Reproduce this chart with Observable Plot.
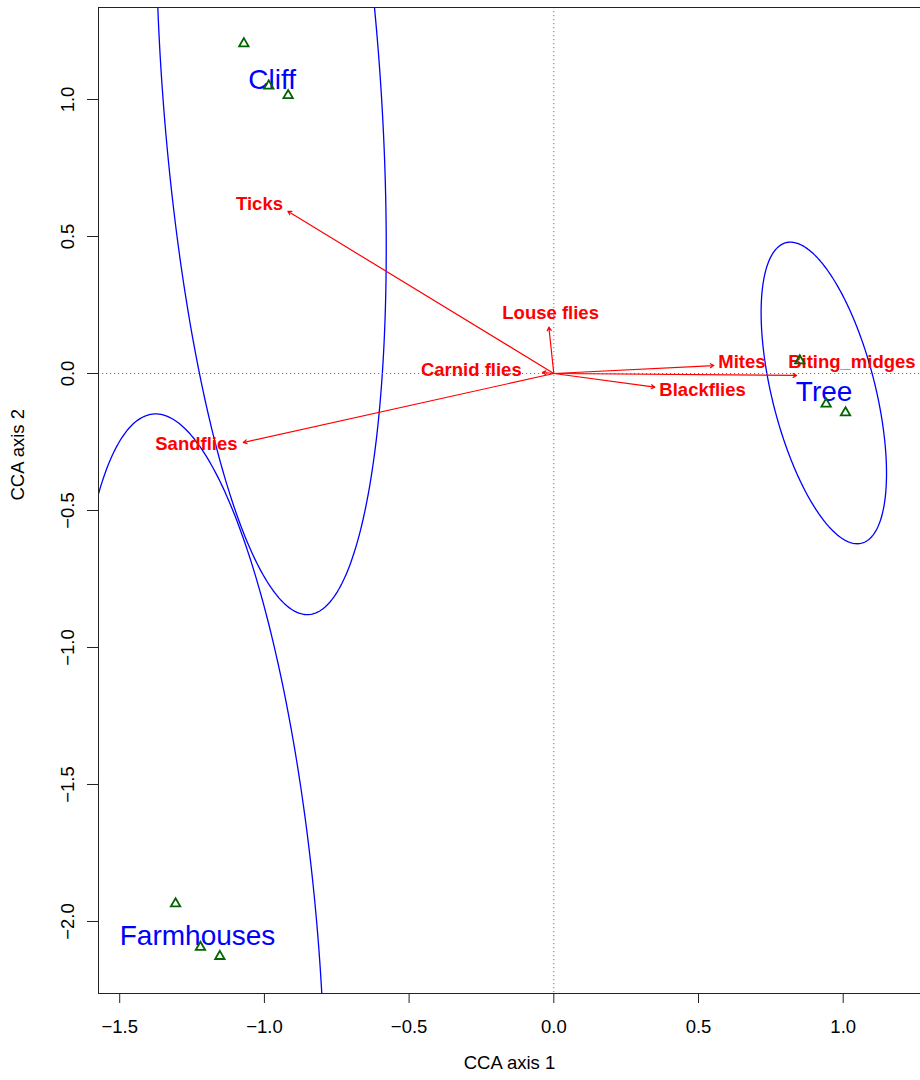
<!DOCTYPE html>
<html><head><meta charset="utf-8">
<script src="https://cdn.jsdelivr.net/npm/d3@7"></script>
<script src="https://cdn.jsdelivr.net/npm/@observablehq/plot@0.6"></script>
<style>body{margin:0;background:#fff}</style>
</head><body><div id="chart"></div>
<script>
// Site scores (green triangles)
const siteGroup = ["Cliff","Cliff","Cliff","Tree","Tree","Tree","Farmhouses","Farmhouses","Farmhouses"];
const siteX = [-1.071,-0.985,-0.918, 0.850,0.941,1.008, -1.307,-1.221,-1.154];
const siteY = [1.204,1.050,1.015, 0.047,-0.111,-0.143, -1.935,-2.094,-2.127];

// Group labels (blue)
const groupNames = ["Cliff","Tree","Farmhouses"];
const groupX = [-0.973, 0.934, -1.231];
const groupY = [1.071, -0.069, -2.052];

// Group ellipses: centre and covariance (data units)
const ellGroup = ["Cliff","Tree","Farmhouses"];
const ellCx = [-0.977, 0.933, -1.229];
const ellCy = [1.070, -0.071, -2.052];
const ellVarX = [0.1584, 0.04694, 0.1926];
const ellCov = [-0.2435, -0.06352, -0.2797];
const ellVarY = [3.8025, 0.3029, 3.6267];

// Species biplot arrows (red)
const species = ["Ticks","Louse flies","Carnid flies","Mites","Biting_midges","Blackflies","Sandflies"];
const arrowX = [-0.919,-0.017,-0.039,0.553,0.839,0.349,-1.073];
const arrowY = [0.592,0.169,0.004,0.029,-0.007,-0.050,-0.252];
const labelX = [-1.017,-0.011,-0.285,0.650,1.030,0.514,-1.235];
const labelY = [0.620,0.220,0.014,0.041,0.040,-0.059,-0.257];

// Axis ticks
const xTicks = [-1.5,-1.0,-0.5,0.0,0.5,1.0];
const yTicks = [-2.0,-1.5,-1.0,-0.5,0.0,0.5,1.0];
const xDomain = [-1.5733, 1.2671];
const yDomain = [-2.2628, 1.3358];

const sites = siteX.map((x,i)=>({x, y: siteY[i], g: siteGroup[i]}));
const groups = groupNames.map((n,i)=>({n, x: groupX[i], y: groupY[i]}));
const arrows = species.map((s,i)=>({s, x: arrowX[i], y: arrowY[i], lx: labelX[i], ly: labelY[i]}));

// build ellipse outlines from centre + covariance (Cholesky)
const ellPts = [];
ellGroup.forEach((g,i)=>{
  const l11 = Math.sqrt(ellVarX[i]);
  const l21 = ellCov[i]/l11;
  const l22 = Math.sqrt(ellVarY[i] - l21*l21);
  for (let k=0;k<=360;k++){
    const t = k*Math.PI/180;
    ellPts.push({g, x: ellCx[i] + l11*Math.cos(t), y: ellCy[i] + l21*Math.cos(t) + l22*Math.sin(t)});
  }
});

const fmt = d3.format(".1f");
const chart = Plot.plot({
  width: 920, height: 1080,
  marginLeft: 98, marginRight: 0, marginTop: 7, marginBottom: 87,
  style: {fontFamily: "Liberation Sans, Arial, sans-serif", background: "#fff"},
  x: {domain: xDomain},
  y: {domain: yDomain},
  marks: [
    Plot.line(ellPts, {x: "x", y: "y", z: "g", stroke: "#0000FF", strokeWidth: 1.3, clip: true}),
    Plot.ruleY([0], {stroke: "#777", strokeDasharray: "1.2,2.8"}),
    Plot.ruleX([0], {stroke: "#777", strokeDasharray: "1.2,2.8"}),
    Plot.arrow(arrows, {x1: 0, y1: 0, x2: "x", y2: "y", stroke: "#FF0000", strokeWidth: 1.2, headLength: 5, bend: 0}),
    Plot.text(arrows, {x: "lx", y: "ly", text: "s", fill: "#FF0000", fontSize: 18.5, fontWeight: "bold", textAnchor: "middle", lineAnchor: "middle"}),
    Plot.text(groups, {x: "x", y: "y", text: "n", fill: "#0000FF", fontSize: 28, textAnchor: "middle", lineAnchor: "middle"}),
    Plot.dot(sites, {x: "x", y: "y", symbol: "triangle", r: 3.5, stroke: "#006400", strokeWidth: 1.8, fill: "none"}),
    Plot.ruleX([xDomain[0]], {stroke: "#222"}),
    Plot.ruleY([yDomain[0], yDomain[1]], {stroke: "#222"}),
    Plot.axisX({ticks: xTicks, tickFormat: fmt, tickSize: 10, tickPadding: 16, fontSize: 18.5, label: null, stroke: "#222"}),
    Plot.axisY({ticks: yTicks, tickFormat: fmt, tickSize: 11, tickPadding: 14, tickRotate: -90, fontSize: 18.5, label: null, stroke: "#222"}),
    Plot.text(["CCA axis 1"], {frameAnchor: "bottom", dy: 75, fontSize: 18.5, fill: "#000"}),
    Plot.text(["CCA axis 2"], {frameAnchor: "left", dx: -80, rotate: -90, fontSize: 18.5, fill: "#000"})
  ]
});
document.getElementById("chart").appendChild(chart);
</script>
</body></html>
